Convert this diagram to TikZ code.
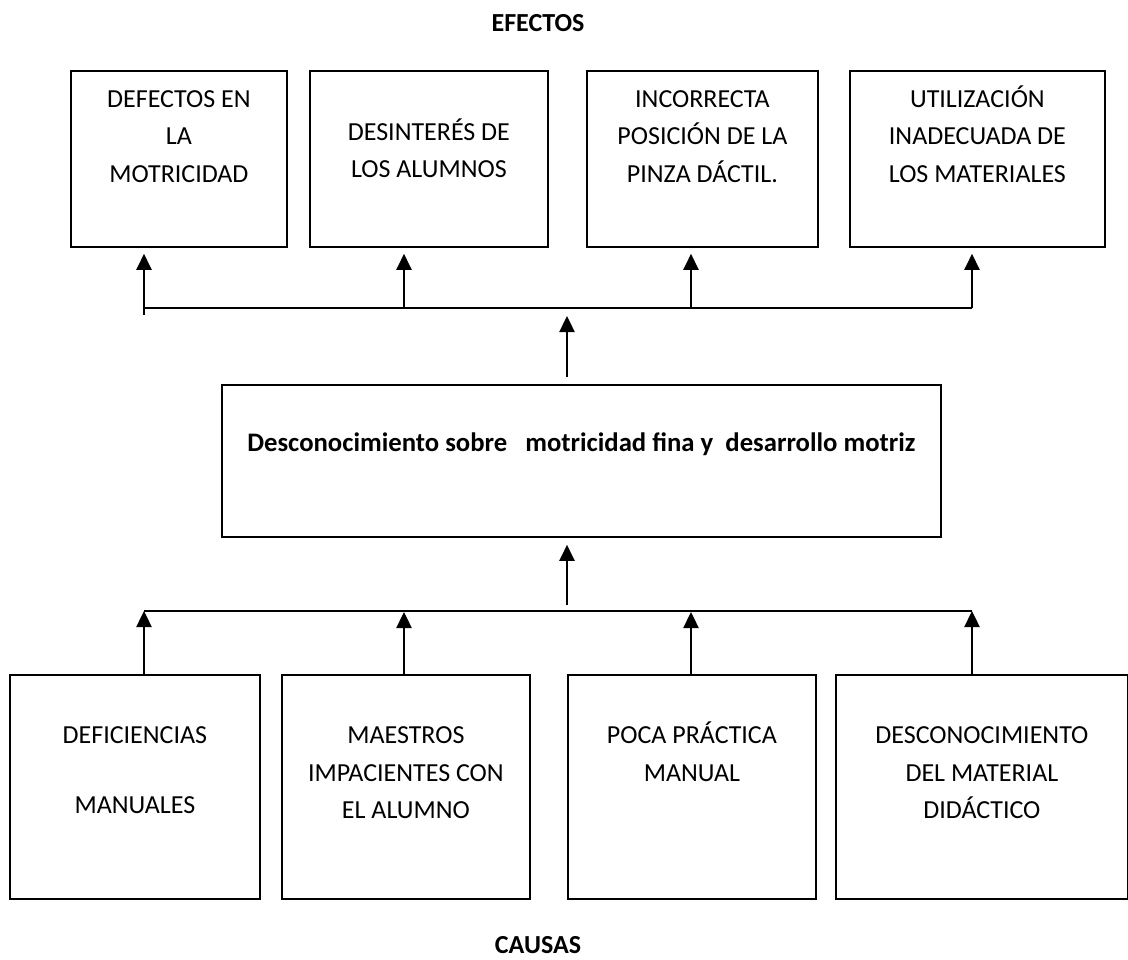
\documentclass[tikz,border=0pt]{standalone}
\usepackage{fontspec}
\setmainfont{Carlito}
\usetikzlibrary{arrows.meta}
\newcommand\bxt[4]{\begin{minipage}[t][#2pt][t]{#1pt}\fontsize{26}{37.5}\selectfont\centering\vspace*{\dimexpr#3pt-30pt\relax}\rule{0pt}{30pt}#4\par\end{minipage}}
\tikzset{
  box/.style={draw, line width=1.8pt, inner sep=0pt, anchor=north west},
  bus/.style={line width=1.6pt},
  arr/.style={line width=2.4pt, -{Triangle[width=15pt,length=16pt]}},
  hdr/.style={font=\fontsize{26}{30}\selectfont\bfseries, inner sep=0pt}
}
\begin{document}
\begin{tikzpicture}[x=1pt,y=-1pt]
\useasboundingbox (0,0) rectangle (1128,960);
\fill[white] (0,0) rectangle (1128,960);
% headers
\node[hdr] (efectos) at (538,23) {EFECTOS};
\node[hdr] (causas) at (538,945) {CAUSAS};
% effect boxes
\node[box] (e1) at (70,70)  {\bxt{216}{176}{36.4}{DEFECTOS EN\\LA\\MOTRICIDAD}};
\node[box] (e2) at (309,70) {\bxt{238}{176}{69.4}{DESINTERÉS DE\\LOS ALUMNOS}};
\node[box] (e3) at (586,70) {\bxt{231}{176}{36.4}{INCORRECTA\\POSICIÓN DE LA\\PINZA DÁCTIL.}};
\node[box] (e4) at (849,70) {\bxt{255}{176}{36.4}{UTILIZACIÓN\\INADECUADA DE\\LOS MATERIALES}};
% central problem
\node[box] (m) at (221,384) {\begin{minipage}[t][152pt][t]{719pt}\fontsize{26.7}{30}\selectfont\bfseries\centering\vspace*{37pt}\rule{0pt}{30pt}Desconocimiento sobre\ \ \ motricidad fina y\ \ desarrollo motriz\par\end{minipage}};
% cause boxes
\node[box] (c1) at (9,674)   {\bxt{250}{224}{69}{DEFICIENCIAS\\[32pt]MANUALES}};
\node[box] (c2) at (281,674) {\bxt{248}{224}{69}{MAESTROS\\IMPACIENTES CON\\EL ALUMNO}};
\node[box] (c3) at (567,674) {\bxt{248}{224}{69}{POCA PRÁCTICA\\MANUAL}};
\node[box] (c4) at (835,674) {\bxt{292}{224}{69}{DESCONOCIMIENTO\\DEL MATERIAL\\DIDÁCTICO}};
% top bus
\coordinate (t0) at (144,315);
\coordinate (t1) at (144,308);
\coordinate (t2) at (404,308);
\coordinate (t3) at (691,308);
\coordinate (t4) at (972,308);
\draw[bus] (t1) -- (t4);
\draw[arr, shorten >=6pt] (t0) -- (t0 |- e1.south);
\draw[arr, shorten >=6pt] (t2) -- (t2 |- e2.south);
\draw[arr, shorten >=6pt] (t3) -- (t3 |- e3.south);
\draw[arr, shorten >=6pt] (t4) -- (t4 |- e4.south);
% central arrows
\coordinate (ua) at (567,316);
\draw[arr, shorten <=7pt] (ua |- m.north) -- (ua);
\coordinate (la) at (567,605);
\draw[arr, shorten >=7pt] (la) -- (la |- m.south);
% bottom bus
\coordinate (b1) at (144,611);
\coordinate (b2) at (404,612);
\coordinate (b3) at (691,612);
\coordinate (b4) at (972,611);
\draw[bus] (b1) -- (b4);
\draw[arr] (b1 |- c1.north) -- (b1);
\draw[arr] (b2 |- c2.north) -- (b2);
\draw[arr] (b3 |- c3.north) -- (b3);
\draw[arr] (b4 |- c4.north) -- (b4);
\end{tikzpicture}
\end{document}
